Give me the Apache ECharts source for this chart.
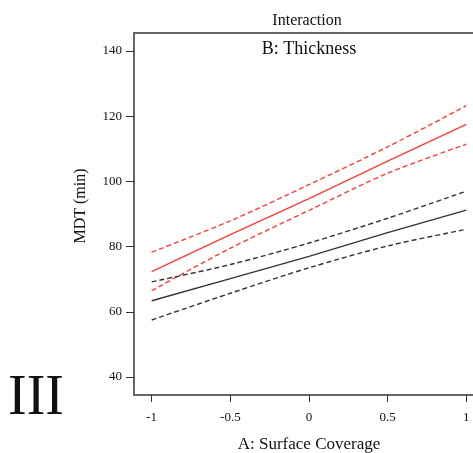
<!DOCTYPE html>
<html>
<head>
<meta charset="utf-8">
<script src="https://cdn.jsdelivr.net/npm/echarts@6/dist/echarts.min.js"></script>
<style>html,body{margin:0;padding:0;background:#fff}#c{width:473px;height:453px}</style>
</head>
<body>
<div id="c"></div>
<script>
var xValues = [-1, -0.5, 0, 0.5, 1];
var redUpper = [78.3, 87.9, 99.0, 110.6, 123.2];
var redMid = [72.3, 83.7, 94.7, 106.2, 117.5];
var redLower = [66.5, 79.5, 91.1, 102.5, 111.4];
var blackUpper = [69.2, 74.5, 81.1, 88.7, 97.0];
var blackMid = [63.4, 70.2, 77.0, 84.3, 91.2];
var blackLower = [57.5, 65.7, 73.5, 80.2, 85.3];
var xTicks = [-1, -0.5, 0, 0.5, 1];
var yTicks = [40, 60, 80, 100, 120, 140];

function pts(ys) { return xValues.map(function (x, i) { return [x, ys[i]]; }); }
var FONT = 'Liberation Serif';
var RED = '#ff3a3a', BLK = '#333333';
function line(name, ys, color, dashed) {
  return {
    name: name, type: 'line', data: pts(ys), symbol: 'none', smooth: dashed ? 0.3 : false,
    lineStyle: { color: color, width: 1.4, type: dashed ? [5, 3] : 'solid' },
    silent: true
  };
}
var chart = echarts.init(document.getElementById('c'));
chart.setOption({
  animation: false,
  backgroundColor: '#fff',
  grid: { left: 134, top: 33, width: 350, height: 362, outerBoundsMode: 'none', containLabel: false,
    show: true, borderColor: '#666', borderWidth: 2, backgroundColor: 'transparent' },
  graphic: [
    { type: 'text', style: { text: 'Interaction', font: '16px "Liberation Serif"', fill: '#111', x: 307, y: 21, align: 'center', verticalAlign: 'middle' } },
    { type: 'text', style: { text: 'B: Thickness', font: '18px "Liberation Serif"', fill: '#111', x: 309, y: 49, align: 'center', verticalAlign: 'middle' } },
    { type: 'text', x: 81, y: 206, rotation: Math.PI / 2, style: { text: 'MDT (min)', font: '16px "Liberation Serif"', fill: '#111', x: 0, y: 0, align: 'center', verticalAlign: 'middle' } },
    { type: 'text', style: { text: 'III', font: '56px "Liberation Serif"', fill: '#111', x: 36, y: 399, align: 'center', verticalAlign: 'middle' } }
  ],
  xAxis: {
    type: 'value', min: -1.1125, max: 1.1125,
    name: 'A: Surface Coverage', nameLocation: 'middle', nameGap: 41,
    nameTextStyle: { fontFamily: FONT, fontSize: 17, color: '#111' },
    axisLine: { show: true, onZero: false, lineStyle: { color: '#666', width: 2 } },
    axisTick: { show: true, length: 7, customValues: xTicks, lineStyle: { color: '#333', width: 1 } },
    axisLabel: { customValues: xTicks, margin: 16, fontFamily: FONT, fontSize: 13, color: '#111',
      formatter: function (v) { return String(v); } },
    splitLine: { show: false }
  },
  yAxis: {
    type: 'value', min: 34.5, max: 145.5,
    axisLine: { show: true, onZero: false, lineStyle: { color: '#666', width: 2 } },
    axisTick: { show: true, length: 8, customValues: yTicks, lineStyle: { color: '#333', width: 1 } },
    axisLabel: { customValues: yTicks, margin: 12, fontFamily: FONT, fontSize: 13, color: '#111' },
    splitLine: { show: false }
  },
  series: [
    line('redUpper', redUpper, RED, true),
    line('redMid', redMid, RED, false),
    line('redLower', redLower, RED, true),
    line('blackUpper', blackUpper, BLK, true),
    line('blackMid', blackMid, BLK, false),
    line('blackLower', blackLower, BLK, true)
  ]
});
</script>
</body>
</html>
